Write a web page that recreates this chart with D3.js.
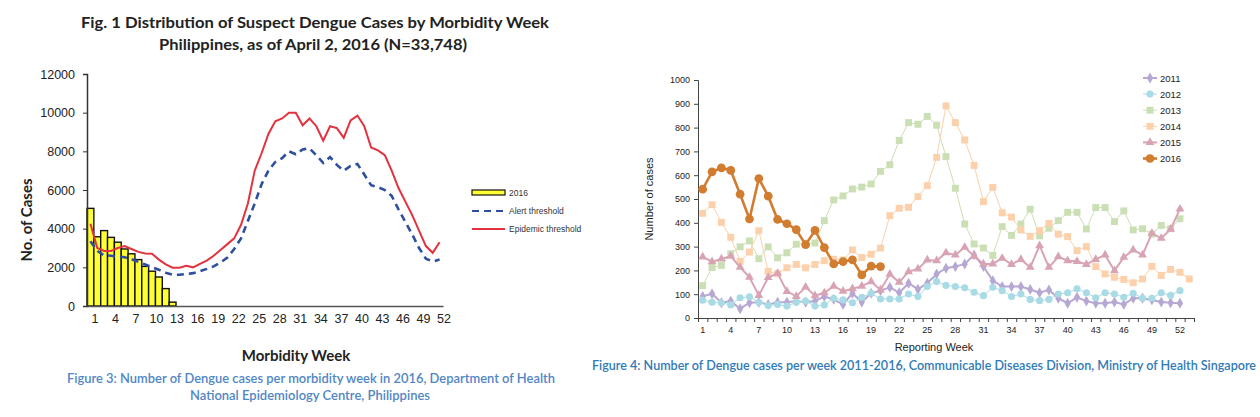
<!DOCTYPE html>
<html><head><meta charset="utf-8">
<script src="https://cdn.jsdelivr.net/npm/d3@7"></script>
<style>
body{margin:0;background:#fff;}
svg{display:block;}
</style></head>
<body><svg id="c" width="1260" height="417"></svg>
<script>
// ---------- Left chart data (Philippines) ----------
const phWeeks = d3.range(1, 53);
const phTickLabels = [1,4,7,10,13,16,19,22,25,28,31,34,37,40,43,46,49,52];
const phYTicks = [0,2000,4000,6000,8000,10000,12000];
const phCases2016 = [5050,3580,3900,3550,3300,2950,2700,2400,2050,1800,1500,900,200];
const phAlert = [3350,2850,2620,2600,2560,2520,2420,2280,2150,2000,
  1880,1720,1620,1620,1650,1700,1800,1920,2050,2250,
  2500,2950,3500,4400,5300,6300,7000,7450,7650,8000,
  7850,8100,8150,7800,7400,7700,7300,7000,7250,7350,
  6800,6250,6150,6000,5700,5000,4350,3700,3000,2450,2300,2400];
const phEpidemic = [4250,3000,2850,2850,3000,3100,2950,2800,2720,2700,
  2400,2150,1980,1980,2080,2000,2180,2350,2600,2900,
  3200,3500,4200,5300,7000,7900,8900,9550,9700,10000,
  10000,9350,9700,9300,8550,9300,9200,8700,9600,9850,
  9300,8200,8050,7800,7000,6100,5400,4700,3900,3100,2750,3300];
const phLegend = ["2016","Alert threshold","Epidemic threshold"];

// ---------- Right chart data (Singapore) ----------
const sgYears = ["2011","2012","2013","2014","2015","2016"];
const sgTickLabels = [1,4,7,10,13,16,19,22,25,28,31,34,37,40,43,46,49,52];
const sgYTicks = [0,100,200,300,400,500,600,700,800,900,1000];
const sg2011 = [91,102,64,71,39,64,66,57,66,66,71,66,71,90,78,57,104,67,104,115,
  129,106,146,121,146,185,209,216,227,265,216,157,132,132,132,120,106,118,83,62,
  87,71,62,62,67,57,83,83,76,67,64,62];
const sg2012 = [75,66,64,55,85,89,66,53,57,50,66,71,50,55,83,76,64,87,104,80,
  80,80,101,90,132,153,137,132,127,108,94,129,115,90,101,78,73,78,101,106,
  123,106,85,106,101,87,104,83,83,106,95,115];
const sg2013 = [136,212,221,270,299,324,249,299,253,274,310,314,315,409,496,513,542,550,563,616,
  644,746,821,814,847,810,678,545,395,311,294,263,384,347,395,457,345,377,409,444,
  444,374,464,464,405,450,370,375,352,389,375,417];
const sg2014 = [440,476,402,339,238,277,367,196,186,211,225,211,225,241,247,244,286,254,268,294,
  430,461,465,510,556,675,891,821,748,641,489,549,442,424,370,343,367,398,352,342,
  283,300,216,185,171,162,148,164,217,179,204,192,164];
const sg2015 = [257,237,248,260,213,171,95,170,188,112,91,130,94,106,134,113,123,134,153,118,
  184,150,195,206,244,241,274,265,297,260,227,227,251,225,246,213,304,213,258,241,
  238,225,246,265,199,255,286,265,356,335,373,458];
const sg2016 = [541,614,631,620,520,416,586,512,414,396,371,308,368,296,227,237,244,181,218,216];

const svg = d3.select("#c");
svg.append("rect").attr("width",1260).attr("height",417).attr("fill","#fff");

// ================= LEFT CHART =================
const L = svg.append("g");
const xL = d3.scaleLinear().domain([0.5, 52.5]).range([87, 443]);
const yL = d3.scaleLinear().domain([0, 12000]).range([306, 74]);
const bw = xL(1.5) - xL(0.5);

L.append("text").attr("x",315).attr("y",28).attr("text-anchor","middle")
  .attr("font-family","Lato, 'Open Sans', sans-serif").attr("font-weight","bold").attr("font-size",16)
  .attr("fill","#222").attr("textLength",468).attr("lengthAdjust","spacingAndGlyphs")
  .text("Fig. 1 Distribution of Suspect Dengue Cases by Morbidity Week");
L.append("text").attr("x",313).attr("y",50).attr("text-anchor","middle")
  .attr("font-family","Lato, 'Open Sans', sans-serif").attr("font-weight","bold").attr("font-size",16)
  .attr("fill","#222").attr("textLength",308).attr("lengthAdjust","spacingAndGlyphs")
  .text("Philippines, as of April 2, 2016 (N=33,748)");

// bars
L.selectAll("rect.bar").data(phCases2016).enter().append("rect")
  .attr("class","bar")
  .attr("x",(d,i)=>xL(i+0.5))
  .attr("width",bw)
  .attr("y",d=>yL(d))
  .attr("height",d=>yL(0)-yL(d))
  .attr("fill","#ffff33").attr("stroke","#111").attr("stroke-width",1.4);

// axes
const yAxL = d3.axisLeft(yL).tickValues(phYTicks).tickSize(4).tickFormat(d3.format("d"));
const gyL = L.append("g").attr("transform","translate(87,0)").call(yAxL);
gyL.select(".domain").attr("stroke","#333").attr("stroke-width",1.5);
gyL.selectAll(".tick line").attr("stroke","#333");
gyL.selectAll("text").attr("font-family","'Liberation Sans', Arial, sans-serif").attr("font-size",12.5)
  .attr("fill","#222").attr("x",-12);

const xAxL = d3.axisBottom(xL).tickValues(phTickLabels).tickSize(0).tickPadding(8);
const gxL = L.append("g").attr("transform","translate(0,306)").call(xAxL);
gxL.select(".domain").attr("stroke","#555").attr("stroke-width",1.5);
gxL.selectAll("text").attr("font-family","'Liberation Sans', Arial, sans-serif").attr("font-size",12.5)
  .attr("fill","#222").attr("dx",4);

// lines
const lineL = d3.line().x((d,i)=>xL(i+1)).y(d=>yL(d));
L.append("path").datum(phAlert).attr("d",lineL).attr("fill","none")
  .attr("stroke","#2d4f9e").attr("stroke-width",2.6).attr("stroke-dasharray","7,5");
L.append("path").datum(phEpidemic).attr("d",lineL).attr("fill","none")
  .attr("stroke","#e3323f").attr("stroke-width",2);

// axis titles
L.append("text").attr("transform","translate(32,220) rotate(-90)").attr("text-anchor","middle")
  .attr("font-family","Lato, 'Open Sans', sans-serif").attr("font-weight","bold").attr("font-size",15)
  .attr("fill","#222").text("No. of Cases");
L.append("text").attr("x",296).attr("y",361).attr("text-anchor","middle")
  .attr("font-family","Lato, 'Open Sans', sans-serif").attr("font-weight","bold").attr("font-size",15)
  .attr("fill","#222").text("Morbidity Week");

// legend
const legL = L.append("g");
legL.append("rect").attr("x",472).attr("y",190).attr("width",33).attr("height",5)
  .attr("fill","#ffff33").attr("stroke","#111").attr("stroke-width",1.2);
legL.append("line").attr("x1",472).attr("x2",505).attr("y1",211).attr("y2",211)
  .attr("stroke","#2d4f9e").attr("stroke-width",2.2).attr("stroke-dasharray","7,5");
legL.append("line").attr("x1",472).attr("x2",505).attr("y1",229).attr("y2",229)
  .attr("stroke","#e3323f").attr("stroke-width",2);
legL.selectAll("text").data(phLegend).enter().append("text")
  .attr("x",509).attr("y",(d,i)=>[196,214,232][i])
  .attr("font-family","'Liberation Sans', Arial, sans-serif").attr("font-size",8.5)
  .attr("fill","#333").text(d=>d);

// caption
L.append("text").attr("x",311).attr("y",383).attr("text-anchor","middle")
  .attr("font-family","Lato, 'Open Sans', sans-serif").attr("font-size",12.5).attr("font-weight","600")
  .attr("fill","#4f86c6").attr("textLength",488).attr("lengthAdjust","spacingAndGlyphs")
  .text("Figure 3: Number of Dengue cases per morbidity week in 2016, Department of Health");
L.append("text").attr("x",310).attr("y",400).attr("text-anchor","middle")
  .attr("font-family","Lato, 'Open Sans', sans-serif").attr("font-size",12.5).attr("font-weight","600")
  .attr("fill","#4f86c6").attr("textLength",240).attr("lengthAdjust","spacingAndGlyphs")
  .text("National Epidemiology Centre, Philippines");

// ================= RIGHT CHART =================
const R = svg.append("g");
const xR = d3.scaleLinear().domain([0.5, 53.5]).range([698, 1194]);
const yR = d3.scaleLinear().domain([0, 1000]).range([318, 80]);

const yAxR = d3.axisLeft(yR).tickValues(sgYTicks).tickSize(4).tickPadding(4).tickFormat(d3.format("d"));
const gyR = R.append("g").attr("transform","translate(698,0)").call(yAxR);
gyR.select(".domain").attr("stroke","#444");
gyR.selectAll(".tick line").attr("stroke","#444");
gyR.selectAll("text").attr("font-family","'Liberation Sans', Arial, sans-serif").attr("font-size",9)
  .attr("fill","#222");

const gxR = R.append("g").attr("transform","translate(0,318)");
gxR.call(d3.axisBottom(xR).tickValues(d3.range(0.5, 54.5, 1)).tickSize(4).tickFormat(""));
gxR.select(".domain").attr("stroke","#444");
gxR.selectAll(".tick line").attr("stroke","#444");
gxR.selectAll("text.wk").data(sgTickLabels).enter().append("text").attr("class","wk")
  .attr("x",d=>xR(d)).attr("y",15).attr("text-anchor","middle")
  .attr("font-family","'Liberation Sans', Arial, sans-serif").attr("font-size",9).attr("fill","#222")
  .text(d=>d);

R.append("text").attr("transform","translate(653,199) rotate(-90)").attr("text-anchor","middle")
  .attr("font-family","'Liberation Sans', Arial, sans-serif").attr("font-size",11).attr("fill","#222")
  .text("Number of cases");
R.append("text").attr("x",934).attr("y",351).attr("text-anchor","middle")
  .attr("font-family","'Liberation Sans', Arial, sans-serif").attr("font-size",11).attr("fill","#222")
  .text("Reporting Week");

const series = [
  {name:"2011", data:sg2011, color:"#b6a8d2", w:2,   shape:d3.symbolDiamond, size:34},
  {name:"2012", data:sg2012, color:"#a9dbe6", w:1,   shape:d3.symbolCircle,  size:40},
  {name:"2013", data:sg2013, color:"#cbdfb5", w:1,   shape:d3.symbolSquare,  size:48},
  {name:"2014", data:sg2014, color:"#fbd0ab", w:1,   shape:d3.symbolSquare,  size:48},
  {name:"2015", data:sg2015, color:"#d8a4b4", w:2,   shape:d3.symbolTriangle,size:34},
  {name:"2016", data:sg2016, color:"#d17c2f", w:2.6, shape:d3.symbolCircle,  size:60}
];
const lineR = d3.line().x((d,i)=>xR(i+1)).y(d=>yR(d));
series.forEach(s=>{
  const g = R.append("g");
  g.append("path").datum(s.data).attr("d",lineR).attr("fill","none")
    .attr("stroke",s.color).attr("stroke-width",s.w);
  g.selectAll("path.m").data(s.data).enter().append("path").attr("class","m")
    .attr("d",d3.symbol().type(s.shape).size(s.size))
    .attr("transform",(d,i)=>`translate(${xR(i+1)},${yR(d)})`)
    .attr("fill",s.color);
});

// legend
const legR = R.append("g");
series.forEach((s,i)=>{
  const y = 78 + i*16.1;
  legR.append("line").attr("x1",1143).attr("x2",1157).attr("y1",y).attr("y2",y)
    .attr("stroke",s.color).attr("stroke-width",s.w);
  legR.append("path").attr("d",d3.symbol().type(s.shape).size(s.size))
    .attr("transform",`translate(1150,${y})`).attr("fill",s.color);
  legR.append("text").attr("x",1160).attr("y",y+3.5)
    .attr("font-family","'Liberation Sans', Arial, sans-serif").attr("font-size",9.5).attr("fill","#222")
    .text(s.name);
});

// caption
R.append("text").attr("x",592).attr("y",370)
  .attr("font-family","Lato, 'Open Sans', sans-serif").attr("font-size",12.5).attr("font-weight","600")
  .attr("fill","#2f7ab8").attr("textLength",664).attr("lengthAdjust","spacingAndGlyphs")
  .text("Figure 4: Number of Dengue cases per week 2011-2016, Communicable Diseases Division, Ministry of Health Singapore");
</script>
</body></html>
